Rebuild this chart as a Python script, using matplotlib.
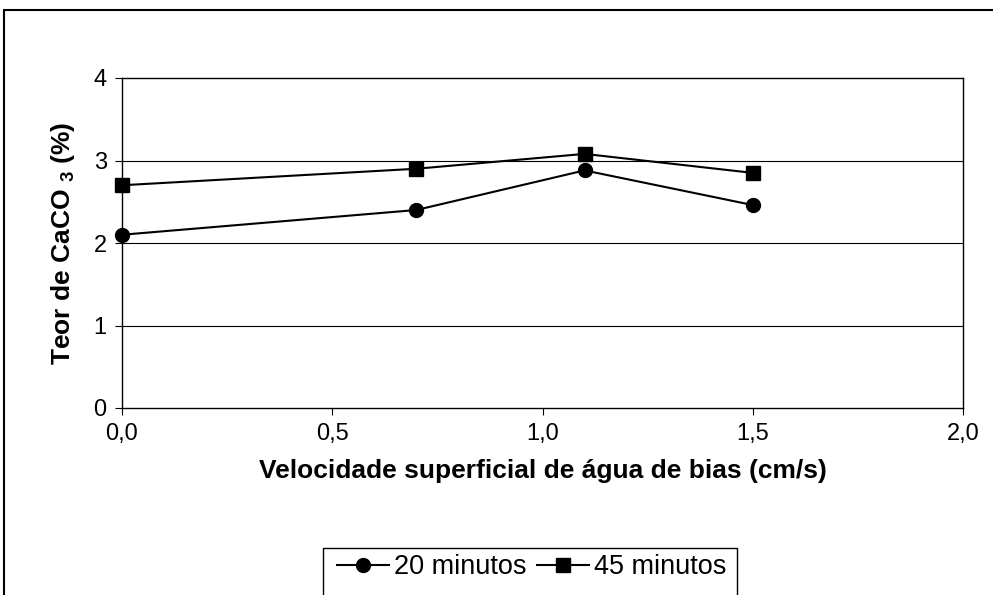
import matplotlib.pyplot as plt
from matplotlib.patches import Rectangle
from matplotlib.lines import Line2D

plt.rcParams['font.family'] = ['Liberation Sans', 'DejaVu Sans']

# data
velocidade = [0.0, 0.7, 1.1, 1.5]
teor_20min = [2.10, 2.40, 2.88, 2.46]
teor_45min = [2.70, 2.90, 3.08, 2.85]
series_labels = ['20 minutos', '45 minutos']
x_ticks = [0.0, 0.5, 1.0, 1.5, 2.0]
x_tick_labels = ['0,0', '0,5', '1,0', '1,5', '2,0']
y_ticks = [0, 1, 2, 3, 4]

W, H = 993, 595
fig = plt.figure(figsize=(W / 100, H / 100), dpi=100)
ax = fig.add_axes([122 / W, 1 - 408 / H, (963 - 122) / W, (408 - 78) / H])

ax.plot(velocidade, teor_20min, color='black', lw=1.5, marker='o', ms=10,
        label=series_labels[0], clip_on=False, zorder=3)
ax.plot(velocidade, teor_45min, color='black', lw=1.5, marker='s', ms=9.5,
        label=series_labels[1], clip_on=False, zorder=3)

ax.set_xlim(0, 2)
ax.set_ylim(0, 4)
ax.set_xticks(x_ticks)
ax.set_xticklabels(x_tick_labels)
ax.set_yticks(y_ticks)
for y in y_ticks[1:-1]:
    ax.axhline(y, color='black', lw=0.8, zorder=1)

for s in ax.spines.values():
    s.set_color('black')
    s.set_linewidth(1.0)
ax.tick_params(direction='out', length=5, width=0.8, labelsize=17, pad=6, colors='black')

ax.set_ylabel(r'Teor de CaCO $\mathregular{_{3}}$ (%)', fontsize=19, fontweight='bold', labelpad=12)
ax.set_xlabel('Velocidade superficial de água de bias (cm/s)', fontsize=19,
              fontweight='bold', labelpad=10)

# outer chart border
fig.patches.append(Rectangle((4 / W, -0.05), 1.1, 1 - 10 / H + 0.05, transform=fig.transFigure,
                             fill=False, edgecolor='black', lw=1.5, clip_on=False))

# legend box
fig.patches.append(Rectangle((323 / W, -0.05), (737 - 323) / W, 1 - 548 / H + 0.05,
                             transform=fig.transFigure, fill=False, edgecolor='black',
                             lw=1.0, clip_on=False))
handles = [Line2D([], [], color='black', lw=1.5, marker='o', ms=10),
           Line2D([], [], color='black', lw=1.5, marker='s', ms=9.5)]
fig.legend(handles, series_labels, loc='center', bbox_to_anchor=(532 / W, 1 - 567 / H),
           ncol=2, frameon=False, fontsize=19.5, handlelength=1.9, handletextpad=0.2,
           columnspacing=0.4)

fig.savefig('out.png', dpi=100)
